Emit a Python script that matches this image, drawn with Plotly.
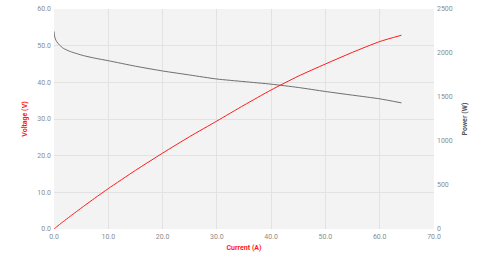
import plotly.graph_objects as go

current = [0, 0.1, 0.25, 0.5, 1, 1.7, 3, 5.4, 7.5, 10, 15, 20, 25, 30, 35, 40, 45, 50, 55, 60, 64]
voltage = [53.9, 52.6, 51.8, 51.1, 50.2, 49.3, 48.4, 47.3, 46.6, 45.9, 44.4, 43.1, 42.0, 40.9,
           40.2, 39.5, 38.6, 37.5, 36.5, 35.5, 34.4]
power = [0, 5.3, 13, 25.6, 50.2, 83.8, 145.2, 255.4, 349.5, 459, 666, 862, 1050, 1227, 1407,
         1580, 1737, 1875, 2008, 2130, 2202]

x_ticks = [0, 10, 20, 30, 40, 50, 60, 70]
v_ticks = [0, 10, 20, 30, 40, 50, 60]
p_ticks = [0, 500, 1000, 1500, 2000, 2500]

RED = "#ff1a1a"
GRAY = "#6e6e6e"
TICK = dict(family="Roboto, sans-serif", size=7, color="#8c8c8c")
GRID = "#e2e2e2"

fig = go.Figure()
fig.add_trace(go.Scatter(x=current, y=voltage, mode="lines", line=dict(color=GRAY, width=1, shape="spline", smoothing=0.6),
                         yaxis="y", showlegend=False))
fig.add_trace(go.Scatter(x=current, y=power, mode="lines", line=dict(color=RED, width=1, shape="spline", smoothing=0.6),
                         yaxis="y2", showlegend=False))

fig.update_layout(
    width=490, height=256,
    margin=dict(l=54, r=56, t=5, b=26),
    paper_bgcolor="white", plot_bgcolor="#f3f3f3",
    xaxis=dict(range=[0, 70], tickvals=x_ticks, ticktext=[f"{v:.1f}" for v in x_ticks],
               showgrid=True, gridcolor=GRID, gridwidth=1, zeroline=False, showline=False,
               tickfont=TICK, ticks="", ticklabelstandoff=2,
               title=dict(text="<b>Current (A)</b>", font=dict(family="Roboto, sans-serif", size=7, color=RED),
                          standoff=5)),
    yaxis=dict(range=[0, 60], tickvals=v_ticks, ticktext=[f"{v:.1f}" for v in v_ticks],
               showgrid=True, gridcolor=GRID, zeroline=False, showline=False, tickfont=TICK, ticks="",
               ticklabelstandoff=2,
               title=dict(text="<b>Voltage (V)</b>", font=dict(family="Roboto, sans-serif", size=7, color=RED),
                          standoff=8)),
    yaxis2=dict(range=[0, 2500], tickvals=p_ticks, ticktext=[str(v) for v in p_ticks],
                overlaying="y", side="right", showgrid=False, zeroline=False, showline=False,
                tickfont=TICK, ticks="", ticklabelstandoff=2,
                title=dict(text="<b>Power (W)</b>", font=dict(family="Roboto, sans-serif", size=7, color="#555555"),
                           standoff=10)),
)

fig.write_html("out.html")
